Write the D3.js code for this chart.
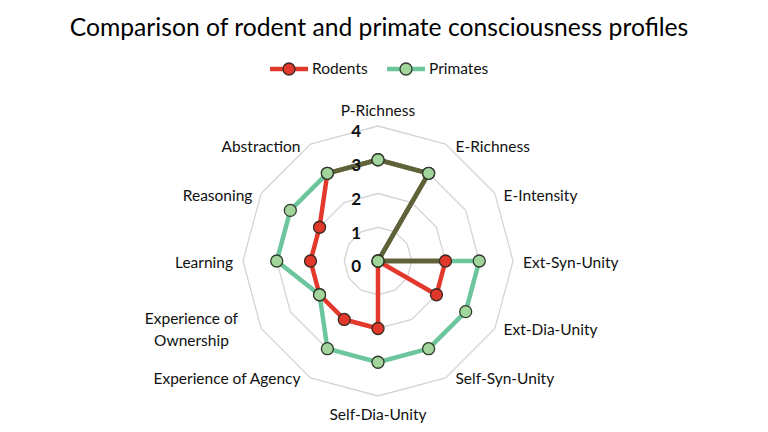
<!DOCTYPE html>
<html>
<head>
<meta charset="utf-8">
<script src="https://cdn.jsdelivr.net/npm/d3@7"></script>
<style>
  body { margin: 0; background: #fff; }
  svg { display: block; font-family: Lato, "Open Sans", sans-serif; }
  .title { font-size: 24.7px; fill: #000; }
  .axis-label { font-size: 15.5px; fill: #111; }
  .tick-label { font-size: 17px; font-weight: bold; fill: #111; }
  .legend-label { font-size: 15.5px; fill: #111; }
</style>
</head>
<body>
<div id="chart"></div>
<script>
// axis categories, clockwise from the top
const categories = [
  'P-Richness', 'E-Richness', 'E-Intensity', 'Ext-Syn-Unity', 'Ext-Dia-Unity',
  'Self-Syn-Unity', 'Self-Dia-Unity', 'Experience of Agency',
  'Experience of Ownership', 'Learning', 'Reasoning', 'Abstraction'
];
const rodents  = [3, 3, 0, 2, 2, 0, 2, 2, 2, 2, 2, 3];
const primates = [3, 3, 0, 3, 3, 3, 3, 3, 2, 3, 3, 3];
const tickValues = [0, 1, 2, 3, 4];

const width = 768, height = 432;
const cx = 378, cy = 261, R = 135;
const red = '#e3392d', green = '#6cc59c', olive = '#5f6138';

const svg = d3.select('#chart').append('svg')
  .attr('width', width)
  .attr('height', height);

svg.append('text')
  .attr('class', 'title')
  .attr('x', 379)
  .attr('y', 36)
  .attr('text-anchor', 'middle')
  .text('Comparison of rodent and primate consciousness profiles');

const rScale = d3.scaleLinear().domain([0, 4]).range([0, R]);
const aScale = d3.scaleLinear().domain([0, categories.length]).range([0, 2 * Math.PI]);

const chart = svg.append('g').attr('transform', `translate(${cx},${cy})`);

const pt = (i, v) => [Math.sin(aScale(i)) * rScale(v), -Math.cos(aScale(i)) * rScale(v)];

// grid rings (polygons)
chart.selectAll('.ring')
  .data(tickValues.filter(d => d > 0))
  .join('path')
  .attr('class', 'ring')
  .attr('d', v => d3.line()(categories.map((c, i) => pt(i, v))) + 'Z')
  .attr('fill', 'none')
  .attr('stroke', '#d4d4d4')
  .attr('stroke-width', 1.3);

const radial = d3.lineRadial()
  .angle((d, i) => aScale(i))
  .radius(d => rScale(d))
  .curve(d3.curveLinearClosed);

chart.append('path').attr('d', radial(rodents))
  .attr('fill', 'none').attr('stroke', red).attr('stroke-width', 4.5).attr('stroke-linejoin', 'round');
chart.append('path').attr('d', radial(primates))
  .attr('fill', 'none').attr('stroke', green).attr('stroke-width', 4.5).attr('stroke-linejoin', 'round');

// where the two series run along the same segment, draw it in olive
const overlaps = [];
categories.forEach((c, i) => {
  const j = (i + 1) % categories.length;
  const a0 = rodents[i], a1 = rodents[j], b0 = primates[i], b1 = primates[j];
  if (a0 === b0 && a1 === b1) overlaps.push([pt(i, a0), pt(j, a1)]);
  else if (a0 === 0 && b0 === 0) overlaps.push([pt(i, 0), pt(j, Math.min(a1, b1))]);
  else if (a1 === 0 && b1 === 0) overlaps.push([pt(i, Math.min(a0, b0)), pt(j, 0)]);
});
chart.selectAll('.overlap')
  .data(overlaps)
  .join('path')
  .attr('class', 'overlap')
  .attr('d', d => d3.line()(d))
  .attr('stroke', olive)
  .attr('stroke-width', 4.5)
  .attr('stroke-linecap', 'round');

chart.selectAll('.pt-rodents')
  .data(rodents)
  .join('circle')
  .attr('class', 'pt-rodents')
  .attr('cx', (d, i) => pt(i, d)[0])
  .attr('cy', (d, i) => pt(i, d)[1])
  .attr('r', 6)
  .attr('fill', '#e2372b')
  .attr('stroke', '#3a2a22')
  .attr('stroke-width', 1.3);

chart.selectAll('.pt-primates')
  .data(primates)
  .join('circle')
  .attr('class', 'pt-primates')
  .attr('cx', (d, i) => pt(i, d)[0])
  .attr('cy', (d, i) => pt(i, d)[1])
  .attr('r', 6)
  .attr('fill', '#a2d59b')
  .attr('stroke', '#2f3a2c')
  .attr('stroke-width', 1.3);

// value ticks along the top axis
chart.selectAll('.tick-label')
  .data(tickValues)
  .join('text')
  .attr('class', 'tick-label')
  .attr('x', -17)
  .attr('y', d => -rScale(d) + 7)
  .attr('dominant-baseline', 'middle')
  .attr('text-anchor', 'end')
  .text(d => d);

// category labels
chart.selectAll('.axis-label')
  .data(categories)
  .join('text')
  .attr('class', 'axis-label')
  .each(function(c, i) {
    const a = aScale(i), s = Math.sin(a), k = Math.cos(a);
    const vertical = Math.abs(s) < 0.01;
    const x = vertical ? 0 : s * 145 + Math.sign(s) * (Math.abs(k) > 0.8 ? 5 : 0);
    const y = (vertical ? -k * 152 : -k * 134) + 3;
    const t = d3.select(this)
      .attr('text-anchor', vertical ? 'middle' : (s > 0 ? 'start' : 'end'))
      .attr('dominant-baseline', 'middle');
    if (c === 'Experience of Ownership') {
      // wrapped onto two centred lines
      const bx = x - 61;
      t.attr('text-anchor', 'middle');
      t.append('tspan').attr('x', bx).attr('y', y - 11).text('Experience of');
      t.append('tspan').attr('x', bx).attr('y', y + 11).text('Ownership');
    } else {
      t.attr('x', x).attr('y', y).text(c);
    }
  });

// legend
const series = [
  { name: 'Rodents', color: red, fill: '#e2372b', stroke: '#3a2a22', x: 270 },
  { name: 'Primates', color: green, fill: '#a2d59b', stroke: '#2f3a2c', x: 387 }
];
const legend = svg.selectAll('.legend')
  .data(series)
  .join('g')
  .attr('class', 'legend')
  .attr('transform', d => `translate(${d.x},69)`);
legend.append('line')
  .attr('x1', 0).attr('x2', 38)
  .attr('stroke', d => d.color)
  .attr('stroke-width', 4.5);
legend.append('circle')
  .attr('cx', 19).attr('r', 6)
  .attr('fill', d => d.fill)
  .attr('stroke', d => d.stroke)
  .attr('stroke-width', 1.3);
legend.append('text')
  .attr('class', 'legend-label')
  .attr('x', 42)
  .attr('y', 1)
  .attr('dominant-baseline', 'middle')
  .text(d => d.name);
</script>
</body>
</html>
